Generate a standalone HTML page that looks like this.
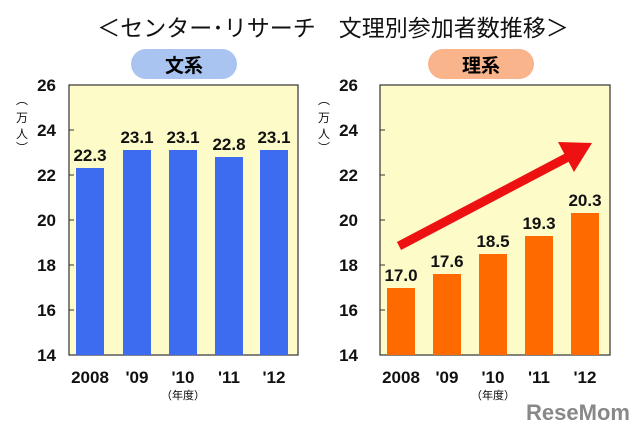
<!DOCTYPE html><html><head><meta charset="utf-8"><style>
body{margin:0;background:#fff;width:640px;height:436px;overflow:hidden;font-family:"Liberation Sans","Noto Sans CJK JP",sans-serif}
</style></head><body>
<svg width="640" height="436" xmlns="http://www.w3.org/2000/svg" font-family="Liberation Sans, Noto Sans CJK JP, sans-serif">
<text x="333" y="36" font-size="23" text-anchor="middle" fill="#111">＜センター･リサーチ　文理別参加者数推移＞</text>
<rect x="131" y="49" width="106" height="30" rx="15" fill="#a9c4f0"/>
<text x="184" y="72" font-size="19" font-weight="bold" text-anchor="middle">文系</text>
<rect x="428" y="49" width="106" height="30" rx="15" fill="#f9b48c"/>
<text x="481" y="72" font-size="19" font-weight="bold" text-anchor="middle">理系</text>
<g font-weight="bold" font-size="17" text-anchor="end" fill="#111">
<text x="56" y="91">26</text><text x="56" y="136">24</text><text x="56" y="181">22</text><text x="56" y="226">20</text><text x="56" y="271">18</text><text x="56" y="316">16</text><text x="56" y="361">14</text>
<text x="358" y="91">26</text><text x="358" y="136">24</text><text x="358" y="181">22</text><text x="358" y="226">20</text><text x="358" y="271">18</text><text x="358" y="316">16</text><text x="358" y="361">14</text>
</g>
<g font-size="12" text-anchor="middle" fill="#111">
<text x="22" y="104">︵</text><text x="22" y="122">万</text><text x="22" y="138">人</text><text x="22" y="152">︶</text>
<text x="324" y="104">︵</text><text x="324" y="122">万</text><text x="324" y="138">人</text><text x="324" y="152">︶</text>
</g>
<rect x="69" y="85" width="229" height="270" fill="#fdfbc8" stroke="#333" stroke-width="1.2"/>
<rect x="380" y="85" width="230" height="270" fill="#fdfbc8" stroke="#333" stroke-width="1.2"/>
<g fill="#3d6cf0">
<rect x="76" y="168" width="28" height="187"/><rect x="123" y="150" width="28" height="205"/><rect x="169" y="150" width="28" height="205"/><rect x="215" y="157" width="28" height="198"/><rect x="260" y="150" width="28" height="205"/>
</g>
<g fill="#ff6a00">
<rect x="387" y="288" width="28" height="67"/><rect x="433" y="274" width="28" height="81"/><rect x="479" y="254" width="28" height="101"/><rect x="525" y="236" width="28" height="119"/><rect x="571" y="213" width="28" height="142"/>
</g>
<g stroke="#333" stroke-width="1">
<line x1="69" y1="130" x2="74" y2="130"/><line x1="69" y1="175" x2="74" y2="175"/><line x1="69" y1="220" x2="74" y2="220"/><line x1="69" y1="265" x2="74" y2="265"/><line x1="69" y1="310" x2="74" y2="310"/>
<line x1="380" y1="130" x2="385" y2="130"/><line x1="380" y1="175" x2="385" y2="175"/><line x1="380" y1="220" x2="385" y2="220"/><line x1="380" y1="265" x2="385" y2="265"/><line x1="380" y1="310" x2="385" y2="310"/>
</g>
<g font-weight="bold" font-size="17" text-anchor="middle" fill="#111">
<text x="90" y="161">22.3</text><text x="137" y="143">23.1</text><text x="183" y="143">23.1</text><text x="229" y="150">22.8</text><text x="274" y="143">23.1</text>
<text x="401" y="281">17.0</text><text x="447" y="267">17.6</text><text x="493" y="247">18.5</text><text x="539" y="229">19.3</text><text x="585" y="206">20.3</text>
<text x="90" y="383">2008</text><text x="137" y="383">'09</text><text x="183" y="383">'10</text><text x="229" y="383">'11</text><text x="274" y="383">'12</text>
<text x="401" y="383">2008</text><text x="447" y="383">'09</text><text x="493" y="383">'10</text><text x="539" y="383">'11</text><text x="585" y="383">'12</text>
</g>
<text x="183" y="399" font-size="11" text-anchor="middle">（年度）</text>
<text x="493" y="399" font-size="11" text-anchor="middle">（年度）</text>
<line x1="399" y1="246" x2="568" y2="157" stroke="#ee1111" stroke-width="9"/>
<polygon points="592,143 558,142 574,172" fill="#ee1111"/>
<text x="578" y="420" font-size="22" font-weight="bold" text-anchor="middle" fill="#888">ReseMom</text>
</svg>
</body></html>
